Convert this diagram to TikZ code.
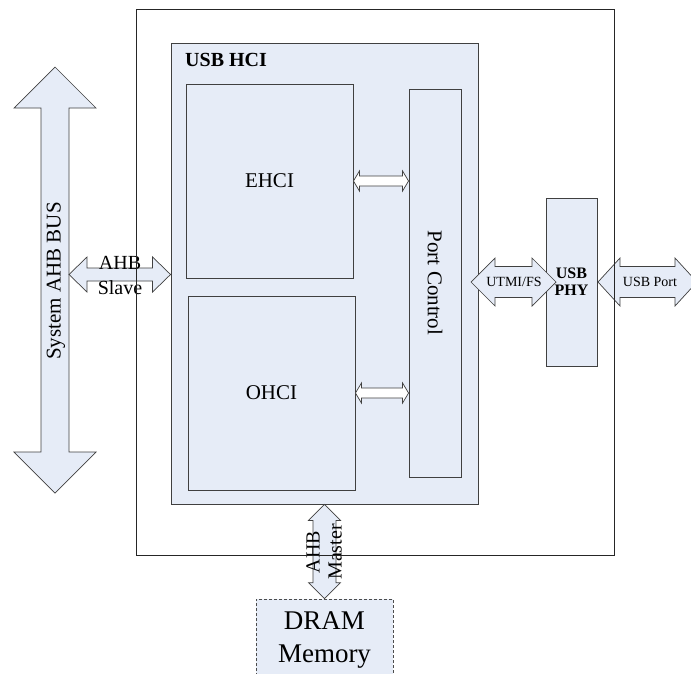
\documentclass[tikz,border=0pt]{standalone}
\usepackage{fontspec}
\setmainfont{Liberation Serif}
\usepackage{xcolor}
\definecolor{colorFill}{RGB}{230,236,247}
\colorlet{colorLine}{black!75}
\colorlet{colorFrame}{black!85}
\usepackage{tikz}
\usetikzlibrary{calc}
\tikzset{
  block/.style={draw=colorLine, fill=colorFill, line width=0.9pt, inner sep=0pt},
  fat/.style={draw=colorLine, fill=colorFill, line width=0.7pt, line join=miter},
  slim/.style={draw=colorLine, fill=white, line width=0.7pt},
  big/.style={font=\fontsize{21}{25}\selectfont},
  small/.style={font=\fontsize{14}{16}\selectfont},
}
% horizontal double arrow: style, left end, right end, shaft half, head half, head length
\newcommand{\fatArrowH}[6]{%
  \draw[#1] let \p1=(#2), \p2=(#3) in
    (\x1,\y1) -- (\x1+#6,\y1+#5) -- (\x1+#6,\y1+#4) -- (\x2-#6,\y1+#4) -- (\x2-#6,\y1+#5)
    -- (\x2,\y1) -- (\x2-#6,\y1-#5) -- (\x2-#6,\y1-#4) -- (\x1+#6,\y1-#4) -- (\x1+#6,\y1-#5) -- cycle;}
% vertical double arrow: style, top end, bottom end, shaft half, head half, head length
\newcommand{\fatArrowV}[6]{%
  \draw[#1] let \p1=(#2), \p2=(#3) in
    (\x1,\y1) -- (\x1+#5,\y1-#6) -- (\x1+#4,\y1-#6) -- (\x1+#4,\y2+#6) -- (\x1+#5,\y2+#6)
    -- (\x1,\y2) -- (\x1-#5,\y2+#6) -- (\x1-#4,\y2+#6) -- (\x1-#4,\y1-#6) -- (\x1-#5,\y1-#6) -- cycle;}

\begin{document}
\begin{tikzpicture}[x=1pt, y=-1pt]
\useasboundingbox (0,0) rectangle (691,673);
% system bus
\coordinate (busT) at (55,67);
\coordinate (busB) at (55,493);
\fatArrowV{fat}{busT}{busB}{14pt}{41pt}{41pt}
\node[big, rotate=90] (bus) at (56,281) {System AHB BUS};
% host controller
\node[block, minimum width=307pt, minimum height=461pt] (hci) at (324.5,273.5) {};
\node[font={\bfseries\fontsize{20}{24}\selectfont}, anchor=west, inner sep=0pt] (hciname) at (185,60) {USB HCI};
\node[block, big, minimum width=167pt, minimum height=194pt] (ehci) at (269.5,181) {EHCI};
\node[block, big, minimum width=167pt, minimum height=194pt] (ohci) at (271.5,393) {OHCI};
\node[block, minimum width=52pt, minimum height=388pt] (port) at (435,283) {};
\node[big, rotate=-90] (portname) at (port.center) {Port Control};
\fatArrowH{slim}{ehci.east}{ehci.east -| port.west}{5pt}{10pt}{6pt}
\fatArrowH{slim}{ohci.east}{ohci.east -| port.west}{5pt}{10pt}{6pt}
% slave port
\coordinate (slaveL) at (69,274.5);
\fatArrowH{fat}{slaveL}{slaveL -| hci.west}{6.5pt}{17.5pt}{18pt}
\node[align=center, font=\fontsize{20}{25}\selectfont] (slave) at (120,275) {AHB\\Slave};
% phy
\node[block, minimum width=51pt, minimum height=168pt, align=center,
      font=\bfseries\fontsize{16}{17}\selectfont] (phy) at (571.5,282) {USB\\PHY};
\coordinate (utmiL) at (471,282);
\coordinate (utmiR) at (556,282);
\fatArrowH{fat}{utmiL}{utmiR}{15.5pt}{24pt}{24pt}
\node[small] (utmi) at (514,282) {UTMI/FS};
\coordinate (usbL) at (598,282);
\coordinate (usbR) at (697,282);
\fatArrowH{fat}{usbL}{usbR}{15.5pt}{24pt}{22pt}
\node[small] (usbport) at (650,282) {USB Port};
% memory
\node[block, draw=black!70, densely dashed, line width=0.6pt, minimum width=137pt, minimum height=82pt,
      align=center, font=\fontsize{27}{33}\selectfont] (dram) at (324.5,640) {DRAM\\Memory};
\fatArrowV{fat}{hci.south}{hci.south |- dram.north}{11.5pt}{16pt}{16pt}
\node[rotate=90, align=center, font=\fontsize{20}{22}\selectfont] (master) at (324,552) {AHB\\Master};
% chip frame
\node[draw=colorFrame, line width=0.8pt, minimum width=478pt, minimum height=546pt] (chip) at (375,282) {};
\end{tikzpicture}
\end{document}
